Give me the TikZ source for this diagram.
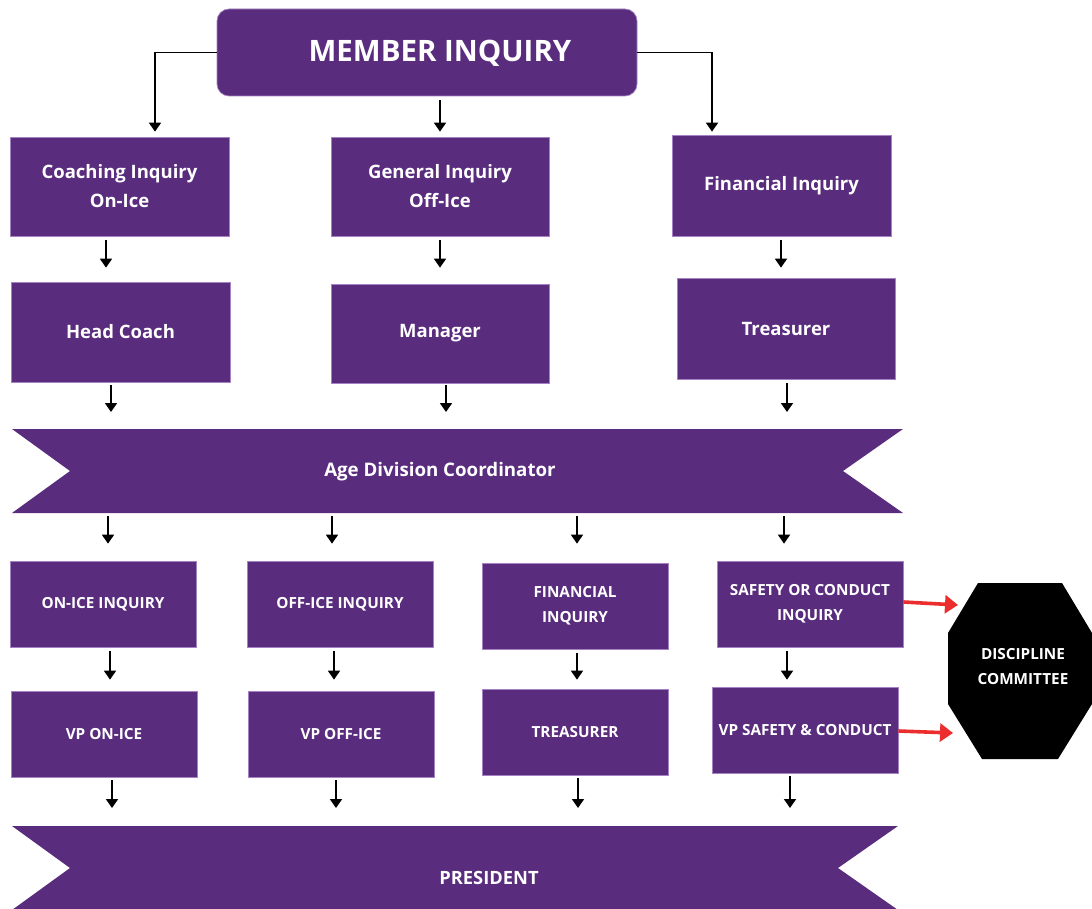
\documentclass[tikz,border=0pt]{standalone}
\usepackage{fontspec}
\setmainfont{Open Sans}
\usetikzlibrary{arrows.meta,calc}
\definecolor{purp}{RGB}{89,44,125}
\definecolor{purpedge}{RGB}{165,130,195}
\definecolor{redarr}{RGB}{235,45,45}
\newcommand{\vlink}[5]{\draw[arr, shorten <=#4, shorten >=#5] (#1.south -| #3) -- (#2.north -| #3);}
\begin{document}
\begin{tikzpicture}[x=1pt,y=-1pt,
  box/.style={fill=purp, draw=purpedge, line width=0.7pt, text=white, align=center, inner sep=0pt},
  frame/.style={inner sep=0pt, outer sep=0pt},
  arr/.style={draw=black, line width=1.8pt, -{Triangle[length=9pt,width=12pt]}},
  redarrow/.style={draw=redarr, line width=3.6pt, -{Triangle[length=13pt,width=18pt]}},
  bigf/.style={font=\fontsize{29.5}{34}\selectfont\bfseries},
  midf/.style={font=\fontsize{18.5}{29}\selectfont\bfseries},
  smf/.style={font=\fontsize{15.3}{25}\selectfont\bfseries},
  banf/.style={font=\fontsize{18.7}{20}\selectfont\bfseries, text=white},
  presf/.style={font=\fontsize{18.3}{20}\selectfont\bfseries, text=white},
]
\useasboundingbox (0,0) rectangle (1092,909);

% column coordinates for connectors
\foreach \xx in {106,111,108,110,112,155,332,334,336,440,446,577,578,712,781,784,787,790}
  \coordinate (x\xx) at (\xx,0);

% top
\node[box, rounded corners=12pt, minimum width=420pt, minimum height=87pt] (member) at (427,52.5) {};
\node[bigf, text=white] (membert) at (440,53) {MEMBER INQUIRY};

% row 1
\node[box, midf, minimum width=219pt, minimum height=99pt] (coach) at (119.5,186.5) {Coaching Inquiry\\On-Ice};
\node[box, midf, minimum width=218pt, minimum height=99pt] (gen) at (440,186.5) {General Inquiry\\Off-Ice};
\node[box, midf, minimum width=219pt, minimum height=101pt] (fin) at (781.5,185.5) {Financial Inquiry};

% row 2
\node[box, midf, minimum width=219pt, minimum height=100pt] (head) at (120.5,332) {Head Coach};
\node[box, midf, minimum width=218pt, minimum height=99pt] (mgr) at (440,333.5) {Manager};
\node[box, midf, minimum width=218pt, minimum height=101pt] (tre) at (786,328.5) {Treasurer};

% banner: age division coordinator
\node[frame, minimum width=891pt, minimum height=84pt] (adc) at (457.5,471) {};
\fill[purp] (adc.north west) -- (adc.north east) -- ($(adc.east)+(-60,0)$) -- (adc.south east)
  -- (adc.south west) -- ($(adc.west)+(58,0)$) -- cycle;
\node[banf] (adct) at (440,472) {Age Division Coordinator};

% row 3
\node[box, smf, minimum width=186pt, minimum height=86pt] (onice) at (103,604) {ON-ICE INQUIRY};
\node[box, smf, minimum width=186pt, minimum height=86pt] (office) at (340,604) {OFF-ICE INQUIRY};
\node[box, smf, minimum width=186pt, minimum height=86pt] (finq) at (575,606) {FINANCIAL\\INQUIRY};
\node[box, smf, minimum width=186pt, minimum height=86pt] (safety) at (810,604) {SAFETY OR CONDUCT\\INQUIRY};

% row 4
\node[box, smf, minimum width=186pt, minimum height=86pt] (vpon) at (104,734) {VP ON-ICE};
\node[box, smf, minimum width=186pt, minimum height=86pt] (vpoff) at (341,734) {VP OFF-ICE};
\node[box, smf, minimum width=186pt, minimum height=86pt] (tre2) at (575,732) {TREASURER};
\node[box, smf, minimum width=186pt, minimum height=86pt] (vpsafe) at (805,730) {VP SAFETY \& CONDUCT};

% banner: president
\node[frame, minimum width=886pt, minimum height=84pt] (pres) at (455,868) {};
\fill[purp] (pres.north west) -- (pres.north east) -- ($(pres.east)+(-60,0)$) -- (pres.south east)
  -- (pres.south west) -- ($(pres.west)+(58,0)$) -- cycle;
\node[presf] (prest) at (489,878) {PRESIDENT};

% discipline committee octagon
\node[frame, minimum width=144pt, minimum height=176pt] (dc) at (1020,671) {};
\fill[black] ($(dc.north west)+(30,0)$) -- ($(dc.north east)+(-30,0)$) -- ($(dc.north east)+(0,50)$)
  -- ($(dc.south east)+(0,-55)$) -- ($(dc.south east)+(-34,0)$) -- ($(dc.south west)+(34,0)$)
  -- ($(dc.south west)+(0,-55)$) -- ($(dc.north west)+(0,50)$) -- cycle;
\node[smf, text=white, align=center] (dct) at (1023,667) {DISCIPLINE\\COMMITTEE};

% connectors from member inquiry
\draw[arr, shorten >=5pt] (member.west) -| (coach.north -| x155);
\draw[arr, shorten <=4pt, shorten >=5pt] (gen.north |- member.south) -- (gen.north);
\draw[arr, shorten >=3pt] (member.east) -| (fin.north -| x712);

% row 1 -> row 2
\vlink{coach}{head}{x106}{4pt}{14pt}
\vlink{gen}{mgr}{x440}{4pt}{16pt}
\vlink{fin}{tre}{x781}{4pt}{10pt}

% row 2 -> banner
\vlink{head}{adc}{x111}{3pt}{17pt}
\vlink{mgr}{adc}{x446}{2pt}{17pt}
\vlink{tre}{adc}{x787}{4pt}{17pt}

% banner -> row 3
\vlink{adc}{onice}{x108}{3pt}{17pt}
\vlink{adc}{office}{x332}{3pt}{17pt}
\vlink{adc}{finq}{x577}{3pt}{19pt}
\vlink{adc}{safety}{x784}{3pt}{17pt}

% row 3 -> row 4
\vlink{onice}{vpon}{x110}{4pt}{11pt}
\vlink{office}{vpoff}{x334}{4pt}{11pt}
\vlink{finq}{tre2}{x577}{4pt}{9pt}
\vlink{safety}{vpsafe}{x787}{4pt}{7pt}

% row 4 -> president
\vlink{vpon}{pres}{x112}{3pt}{18pt}
\vlink{vpoff}{pres}{x336}{3pt}{18pt}
\vlink{tre2}{pres}{x578}{3pt}{18pt}
\vlink{vpsafe}{pres}{x790}{3pt}{18pt}

% red connectors to discipline committee
\draw[redarrow] ($(safety.east)+(0,-2)$) -- ($(dc.west |- safety.east)+(10,1)$);
\draw[redarrow] ($(vpsafe.east)+(0,1)$) -- ($(dc.west |- vpsafe.east)+(5,3)$);
\end{tikzpicture}
\end{document}
